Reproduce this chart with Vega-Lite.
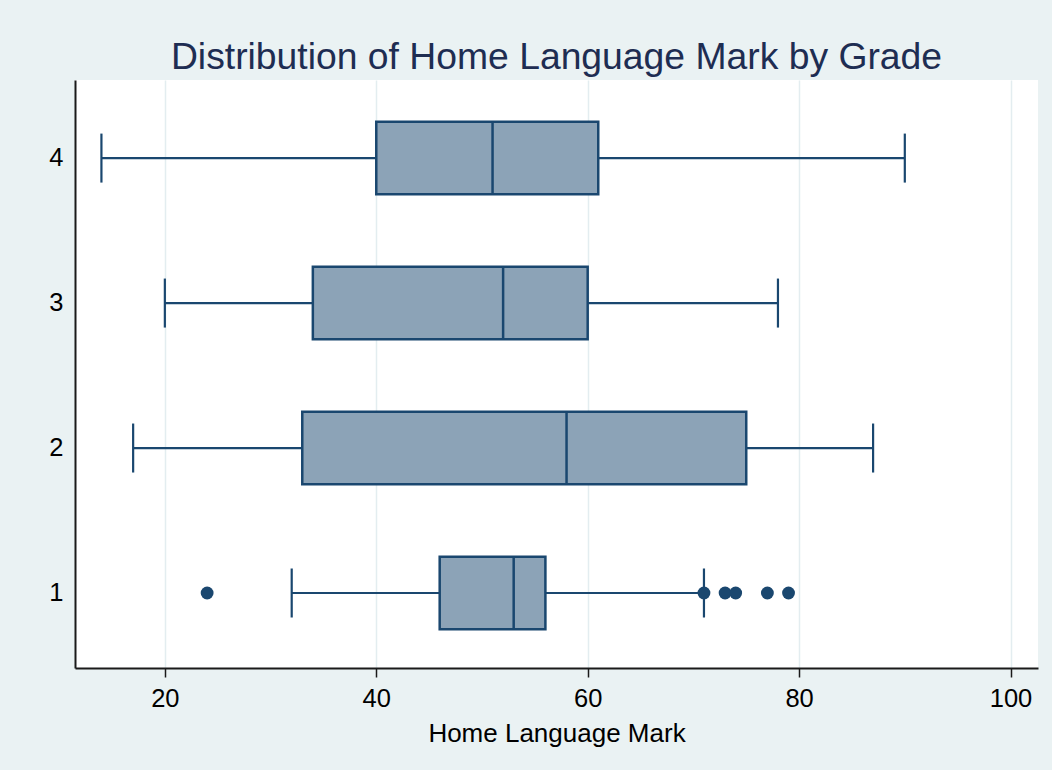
{
  "$schema": "https://vega.github.io/schema/vega-lite/v6.json",
  "autosize": {"type": "none"},
  "padding": {"left": 75, "top": 80, "right": 14, "bottom": 102},
  "width": 963,
  "height": 588,
  "background": "#EAF2F3",
  "title": {
    "text": "Distribution of Home Language Mark by Grade",
    "font": "Liberation Sans",
    "fontSize": 37.3,
    "fontWeight": "normal",
    "color": "#1E2D52",
    "anchor": "middle",
    "offset": 3
  },
  "config": {
    "view": {"fill": "white", "stroke": null},
    "axis": {"labelFont": "Liberation Sans", "titleFont": "Liberation Sans", "labelColor": "#000000", "titleColor": "#000000", "titleFontWeight": "normal"}
  },
  "datasets": {
    "boxes": [
      {"grade": "4", "lo": 14, "q1": 40, "median": 51, "q3": 61, "hi": 90},
      {"grade": "3", "lo": 20, "q1": 34, "median": 52, "q3": 60, "hi": 78},
      {"grade": "2", "lo": 17, "q1": 33, "median": 58, "q3": 75, "hi": 87},
      {"grade": "1", "lo": 32, "q1": 46, "median": 53, "q3": 56, "hi": 71}
    ],
    "outliers": [
      {"grade": "1", "mark": 24},
      {"grade": "1", "mark": 71},
      {"grade": "1", "mark": 73},
      {"grade": "1", "mark": 74},
      {"grade": "1", "mark": 77},
      {"grade": "1", "mark": 79}
    ]
  },
  "encoding": {
    "y": {
      "field": "grade",
      "type": "ordinal",
      "scale": {"domain": ["4", "3", "2", "1"], "paddingInner": 0, "paddingOuter": 0.028, "align": 0.69},
      "axis": {
        "title": null,
        "ticks": false,
        "labelPadding": 12,
        "labelFontSize": 25.5,
        "labelAngle": 0,
        "domainColor": "#1a1a1a",
        "domainWidth": 2,
        "grid": false
      }
    }
  },
  "layer": [
    {
      "data": {"name": "boxes"},
      "mark": {"type": "rule", "color": "#1A476F", "strokeWidth": 2.2},
      "encoding": {
        "x": {
          "field": "lo",
          "type": "quantitative",
          "scale": {"domain": [11.5, 102.6], "nice": false, "zero": false},
          "axis": {
            "title": "Home Language Mark",
            "titleFontSize": 26,
            "titlePadding": 9,
            "values": [20, 40, 60, 80, 100],
            "labelFontSize": 25.5,
            "labelPadding": 9,
            "tickSize": 9,
            "tickColor": "#1a1a1a",
            "tickWidth": 1.5,
            "domainColor": "#1a1a1a",
            "domainWidth": 2,
            "grid": true,
            "gridColor": "#E3EDF0",
            "gridWidth": 1.5
          }
        },
        "x2": {"field": "hi"}
      }
    },
    {
      "data": {"name": "boxes"},
      "mark": {"type": "tick", "orient": "vertical", "color": "#1A476F", "size": 49, "thickness": 2.2, "opacity": 1},
      "encoding": {"x": {"field": "lo", "type": "quantitative"}}
    },
    {
      "data": {"name": "boxes"},
      "mark": {"type": "tick", "orient": "vertical", "color": "#1A476F", "size": 49, "thickness": 2.2, "opacity": 1},
      "encoding": {"x": {"field": "hi", "type": "quantitative"}}
    },
    {
      "data": {"name": "boxes"},
      "mark": {"type": "bar", "fill": "#8CA3B7", "stroke": "#1A476F", "strokeWidth": 2.5, "height": {"band": 0.5}},
      "encoding": {
        "x": {"field": "q1", "type": "quantitative"},
        "x2": {"field": "q3"}
      }
    },
    {
      "data": {"name": "boxes"},
      "mark": {"type": "tick", "orient": "vertical", "color": "#1A476F", "size": 73, "thickness": 2.5, "opacity": 1},
      "encoding": {"x": {"field": "median", "type": "quantitative"}}
    },
    {
      "data": {"name": "outliers"},
      "mark": {"type": "circle", "color": "#1A476F", "size": 165, "opacity": 1},
      "encoding": {"x": {"field": "mark", "type": "quantitative"}}
    }
  ]
}
